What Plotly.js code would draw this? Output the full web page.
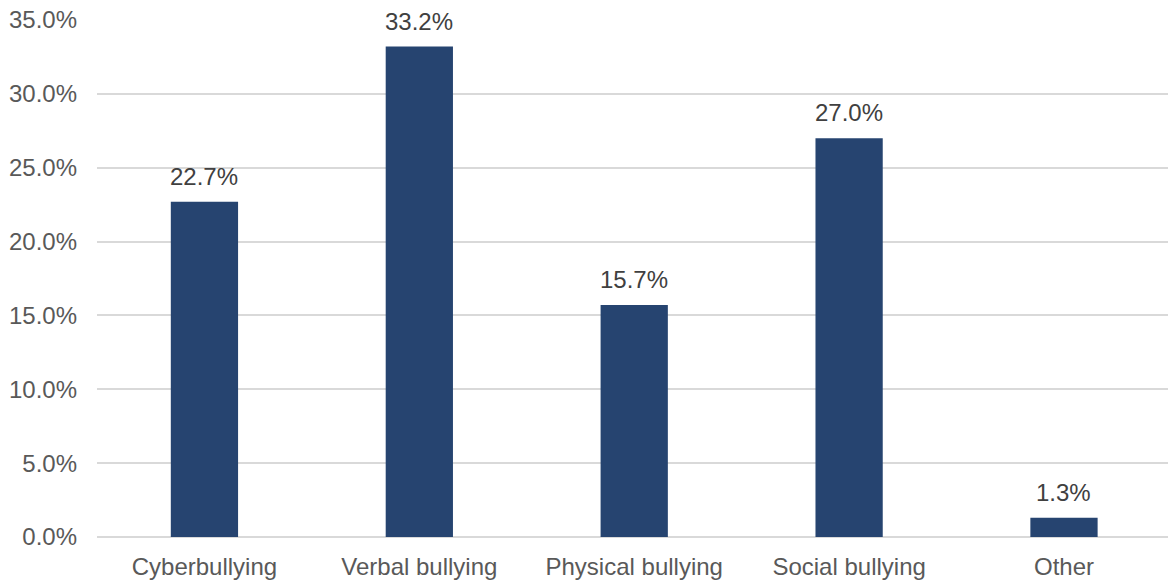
<!DOCTYPE html>
<html>
<head>
<meta charset="utf-8">
<script src="https://cdn.plot.ly/plotly-3.0.1.min.js"></script>
<style>html,body{margin:0;padding:0;background:#fff;}#chart{width:1168px;height:583px;}</style>
</head>
<body>
<div id="chart"></div>
<script>
const categories = ["Cyberbullying", "Verbal bullying", "Physical bullying", "Social bullying", "Other"];
const values = [22.7, 33.2, 15.7, 27.0, 1.3];
const tickVals = [0, 5, 10, 15, 20, 25, 30, 35];
const tickText = ["0.0%", "5.0%", "10.0%", "15.0%", "20.0%", "25.0%", "30.0%", "35.0%"];

const font = {family: "Liberation Sans, Arial, sans-serif", size: 24, color: "#595959"};
const labelFont = {family: "Liberation Sans, Arial, sans-serif", size: 24, color: "#404040"};

const trace = {
  type: "bar",
  x: categories,
  y: values,
  width: 0.313,
  marker: {color: "#264470", line: {width: 0}},
  hoverinfo: "none"
};

const annotations = categories.map((c, i) => ({
  x: c, y: values[i], xref: "x", yref: "y",
  text: values[i].toFixed(1) + "%",
  showarrow: false, yanchor: "bottom", yshift: 10,
  font: labelFont
}));

const layout = {
  width: 1168, height: 583,
  margin: {l: 97, r: 0, t: 20, b: 46, pad: 0},
  paper_bgcolor: "#fff", plot_bgcolor: "#fff",
  font: font,
  showlegend: false,
  xaxis: {type: "category", range: [-0.5, 4.484], showgrid: false, zeroline: false, showline: false, ticks: "", tickfont: font, ticklabelstandoff: 13},
  yaxis: {range: [0, 35], tickvals: tickVals, ticktext: tickText, showgrid: true, gridcolor: "#d9d9d9", gridwidth: 2, zeroline: true, zerolinecolor: "#d9d9d9", zerolinewidth: 2, showline: false, ticks: "", tickfont: font, ticklabelstandoff: 19},
  annotations: annotations
};

Plotly.newPlot("chart", [trace], layout, {displayModeBar: false, staticPlot: true});
</script>
</body>
</html>
